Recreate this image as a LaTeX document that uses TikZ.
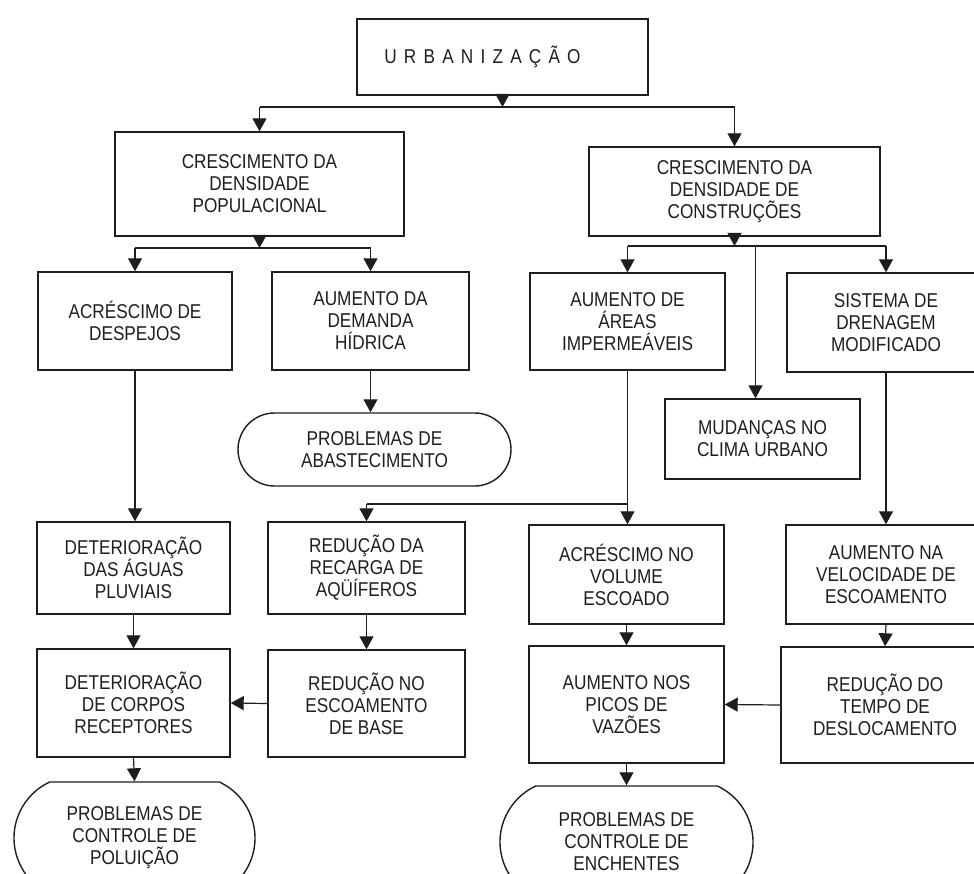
\documentclass[tikz,border=0pt]{standalone}
\usepackage{fontspec}
\setmainfont{Liberation Sans}[FakeStretch=0.86]
\usepackage{tikz}
\usetikzlibrary{arrows.meta,shapes.misc}
\newlength{\boxlinewidth}
\newlength{\linklinewidth}
\setlength{\boxlinewidth}{1.4pt}
\setlength{\linklinewidth}{1.2pt}
\definecolor{inkcolor}{RGB}{30,30,30}
\tikzstyle{every node} = [inner sep=0, font=\fontsize{20}{22}\selectfont, text=inkcolor]
\tikzstyle{box} = [draw=inkcolor, line width=\boxlinewidth, rectangle, align=center]
\tikzstyle{endbox} = [draw=inkcolor, line width=\boxlinewidth, rounded rectangle, align=center]
\tikzstyle{link} = [draw=inkcolor, line width=\linklinewidth]
\tikzstyle{arr} = [link, -{Triangle[length=13pt,width=14pt]}]
\tikzset{boxsize/.style 2 args={minimum width=#1pt, minimum height=#2pt}}

\begin{document}
\begin{tikzpicture}[x=1pt, y=-1pt]
		\useasboundingbox (0,0) rectangle (974,874);
		\clip (0,0) rectangle (974,874);
		
		% top levels
		\node[box, boxsize={291}{76}] (urb) at (502.5,57) {{\addfontfeature{LetterSpace=36}URBANIZAÇÃO}\hspace*{40pt}};
		\node[box, boxsize={289}{104}] (cpop) at (259.5,184) {CRESCIMENTO DA\\DENSIDADE\\POPULACIONAL};
		\node[box, boxsize={291}{89}] (ccon) at (734.5,191.5) {CRESCIMENTO DA\\DENSIDADE DE\\CONSTRUÇÕES};
		
		% third row
		\node[box, boxsize={194}{98}] (despejos) at (135,321) {ACRÉSCIMO DE\\DESPEJOS};
		\node[box, boxsize={197}{98}] (hidrica) at (370.5,321) {AUMENTO DA\\DEMANDA\\HÍDRICA};
		\node[box, boxsize={195}{97}] (imperm) at (627.5,321.5) {AUMENTO DE\\ÁREAS\\IMPERMEÁVEIS};
		\node[box, boxsize={198}{99}] (sistema) at (886,322.5) {SISTEMA DE\\DRENAGEM\\MODIFICADO};
		\node[endbox, boxsize={273}{73}] (abast) at (374.5,449.5) {PROBLEMAS DE\\ABASTECIMENTO};
		\node[box, boxsize={195}{80}] (mudancas) at (762.5,439) {MUDANÇAS NO\\CLIMA URBANO};
		
		% fourth row
		\node[box, boxsize={193}{92}] (aguas) at (133.5,568) {DETERIORAÇÃO\\DAS ÁGUAS\\PLUVIAIS};
		\node[box, boxsize={197}{92}] (recarga) at (366.5,568) {REDUÇÃO DA\\RECARGA DE\\AQÜÍFEROS};
		\node[box, boxsize={195}{99}] (volume) at (626.5,574.5) {ACRÉSCIMO NO\\VOLUME\\ESCOADO};
		\node[box, boxsize={200}{99}] (velocidade) at (886,574.5) {AUMENTO NA\\VELOCIDADE DE\\ESCOAMENTO};
		
		% fifth row
		\node[box, boxsize={193}{108}] (corpos) at (133.5,703) {DETERIORAÇÃO\\DE CORPOS\\RECEPTORES};
		\node[box, boxsize={197}{107}] (base) at (366.5,703.5) {REDUÇÃO NO\\ESCOAMENTO\\DE BASE};
		\node[box, boxsize={195}{117}] (picos) at (626.5,704.5) {AUMENTO NOS\\PICOS DE\\VAZÕES};
		\node[box, boxsize={208}{116}] (desloc) at (885,705) {REDUÇÃO DO\\TEMPO DE\\DESLOCAMENTO};
		
		% problems at the bottom
		\node[endbox, rounded rectangle arc length=130, boxsize={241}{112}] (poluicao) at (134.5,838) {PROBLEMAS DE\\CONTROLE DE\\POLUIÇÃO};
		\node[endbox, rounded rectangle arc length=130, boxsize={253}{112}] (enchentes) at (626.5,842) {PROBLEMAS DE\\CONTROLE DE\\ENCHENTES};
		
		% junctions
		\coordinate (jtop) at (502.5,107);
		\coordinate (jpop) at (259.5,248);
		\coordinate (jcon) at (734.5,246);
		\coordinate (jimp) at (627.5,504);
		
		\draw[arr] (urb.south) -- (jtop);
		\draw[link] (cpop.north |- jtop) -- (ccon.north |- jtop);
		\draw[arr] (cpop.north |- jtop) -- (cpop.north);
		\draw[arr] (ccon.north |- jtop) -- (ccon.north);
		
		\draw[arr] (cpop.south) -- (jpop);
		\draw[link] (despejos.north |- jpop) -- (hidrica.north |- jpop);
		\draw[arr] (despejos.north |- jpop) -- (despejos.north);
		\draw[arr] (hidrica.north |- jpop) -- (hidrica.north);
		
		\draw[arr] (ccon.south) -- (jcon);
		\draw[link] (imperm.north |- jcon) -- (sistema.north |- jcon);
		\draw[arr] (imperm.north |- jcon) -- (imperm.north);
		\draw[arr] (sistema.north |- jcon) -- (sistema.north);
		\draw[arr] ([xshift=-7pt]mudancas.north |- jcon) -- ([xshift=-7pt]mudancas.north);
		
		\draw[arr] (hidrica.south) -- (hidrica.south |- abast.north);
		\draw[arr] (despejos.south) -- (despejos.south |- aguas.north);
		\draw[arr] (imperm.south) -- (imperm.south |- volume.north);
		\draw[link] (imperm.south |- jimp) -- (recarga.north |- jimp);
		\draw[arr] (recarga.north |- jimp) -- (recarga.north);
		\draw[arr] (sistema.south) -- (velocidade.north);
		
		\draw[arr] (aguas.south) -- (corpos.north);
		\draw[arr] (recarga.south) -- (base.north);
		\draw[arr] (volume.south) -- (picos.north);
		\draw[arr] (velocidade.south) -- (desloc.north);
		\draw[arr] (base.west) -- (corpos.east);
		\draw[arr] (desloc.west) -- (picos.east);
		
		\draw[arr] (corpos.south) -- (poluicao.north);
		\draw[arr] (picos.south) -- (enchentes.north);
		
	\end{tikzpicture}
\end{document}
